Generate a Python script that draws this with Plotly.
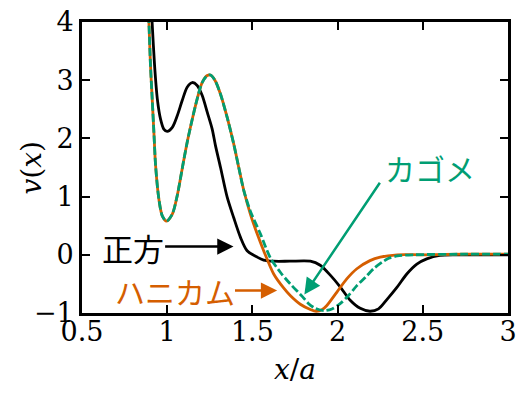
import plotly.graph_objects as go

# 正方 (square)
x_sq = [0.904, 0.912, 0.926, 0.942, 0.961, 0.98, 1.0, 1.03, 1.059, 1.088, 1.117, 1.147, 1.176,
        1.205, 1.235, 1.264, 1.283, 1.313, 1.352, 1.39, 1.43, 1.469, 1.528, 1.566, 1.625, 1.72,
        1.84, 1.898, 1.957, 2.015, 2.074, 2.133, 2.19, 2.24, 2.289, 2.348, 2.406, 2.465, 2.523,
        2.6, 2.7, 2.85, 3.0]
y_sq = [4.4, 3.97, 3.25, 2.68, 2.33, 2.16, 2.12, 2.19, 2.39, 2.65, 2.88, 2.96, 2.91,
        2.74, 2.45, 2.16, 1.88, 1.50, 0.99, 0.64, 0.30, 0.07, -0.04, -0.09, -0.11, -0.11,
        -0.11, -0.18, -0.35, -0.55, -0.78, -0.92, -0.97, -0.93, -0.77, -0.56, -0.33, -0.16, -0.07,
        -0.01, 0.0, 0.0, 0.0]

# ハニカム (honeycomb)
x_hc = [0.885, 0.893, 0.902, 0.912, 0.922, 0.932, 0.951, 0.971, 0.996, 1.03, 1.059, 1.088,
        1.117, 1.147, 1.176, 1.205, 1.235, 1.254, 1.28, 1.313, 1.352, 1.39, 1.42, 1.45, 1.488,
        1.528, 1.566, 1.625, 1.683, 1.722, 1.781, 1.84, 1.875, 1.91, 1.937, 1.996, 2.055, 2.113,
        2.19, 2.25, 2.35, 2.5, 2.75, 3.0]
y_hc = [4.5, 3.97, 3.25, 2.68, 2.10, 1.53, 0.96, 0.67, 0.58, 0.70, 1.02, 1.48,
        1.93, 2.33, 2.68, 2.96, 3.08, 3.09, 3.0, 2.76, 2.36, 1.91, 1.50, 1.10, 0.70,
        0.36, 0.07, -0.33, -0.57, -0.70, -0.85, -0.94, -0.97, -0.94, -0.87, -0.64, -0.41, -0.24,
        -0.10, -0.04, 0.0, 0.0, 0.01, 0.01]

# カゴメ (kagome)
x_kg = [0.885, 0.893, 0.902, 0.912, 0.922, 0.932, 0.951, 0.971, 0.996, 1.03, 1.059, 1.088,
        1.117, 1.147, 1.176, 1.205, 1.235, 1.254, 1.28, 1.313, 1.352, 1.39, 1.42, 1.45, 1.488,
        1.547, 1.605, 1.664, 1.722, 1.791, 1.83, 1.869, 1.918, 1.967, 2.015, 2.064, 2.113, 2.162,
        2.211, 2.26, 2.30, 2.35, 2.45, 2.75, 3.0]
y_kg = [4.5, 3.97, 3.25, 2.68, 2.10, 1.53, 0.96, 0.67, 0.58, 0.70, 1.02, 1.48,
        1.93, 2.33, 2.68, 2.96, 3.08, 3.09, 3.0, 2.76, 2.36, 1.91, 1.50, 1.10, 0.75,
        0.36, -0.05, -0.30, -0.50, -0.71, -0.84, -0.92, -0.96, -0.93, -0.84, -0.70, -0.53, -0.39,
        -0.24, -0.13, -0.06, -0.02, 0.0, 0.01, 0.01]

x_ticks = [0.5, 1, 1.5, 2, 2.5, 3]
y_ticks = [-1, 0, 1, 2, 3, 4]
y_ticktext = ["\u22121", "0", "1", "2", "3", "4"]

BLACK = "#000000"
ORANGE = "#D55E00"
GREEN = "#009E73"

fig = go.Figure()
fig.add_trace(go.Scatter(x=x_sq, y=y_sq, mode="lines", line=dict(color=BLACK, width=2.8, shape="spline", smoothing=0.8)))
fig.add_trace(go.Scatter(x=x_hc, y=y_hc, mode="lines", line=dict(color=ORANGE, width=2.8, shape="spline", smoothing=0.8)))
fig.add_trace(go.Scatter(x=x_kg, y=y_kg, mode="lines", line=dict(color=GREEN, width=2.8, shape="spline", smoothing=0.8, dash="8px,3px")))

serif = "DejaVu Serif"
cjk = "Noto Sans CJK JP"


def axis_style():
    return dict(showline=True, linewidth=2.6, linecolor="black", mirror="allticks",
                ticks="inside", ticklen=8, tickwidth=2, tickcolor="black",
                showgrid=False, zeroline=False,
                tickfont=dict(family=serif, size=27, color="black"))


fig.update_xaxes(range=[0.5, 3], tickvals=x_ticks, ticktext=[str(v) for v in x_ticks],
                 ticklabelstandoff=-7, **axis_style())
fig.update_yaxes(range=[-1, 4], tickvals=y_ticks, ticktext=y_ticktext, **axis_style())

annotations = [
    # axis titles
    dict(text="<i>x</i>/<i>a</i>", xref="paper", yref="paper", x=0.5, y=0, yanchor="middle",
         yshift=-56, showarrow=False, font=dict(family=serif, size=28, color="black")),
    dict(text="<i>v</i>(<i>x</i>)", xref="paper", yref="paper", x=0, y=0.5, xanchor="center",
         xshift=-51, textangle=-90, showarrow=False, font=dict(family=serif, size=28, color="black")),
    # labels
    dict(text="正方", x=0.797, y=0.124, xref="x", yref="y", showarrow=False,
         font=dict(family=cjk, size=31, color=BLACK)),
    dict(text="ハニカム", x=1.045, y=-0.627, xref="x", yref="y", showarrow=False,
         font=dict(family=cjk, size=30, color=ORANGE)),
    dict(text="カゴメ", x=2.543, y=1.49, xref="x", yref="y", showarrow=False,
         font=dict(family=cjk, size=30, color=GREEN)),
    # arrows
    dict(text="", x=1.389, y=0.141, ax=0.979, ay=0.141, xref="x", yref="y", axref="x", ayref="y",
         showarrow=True, arrowhead=2, arrowsize=1.3, arrowwidth=2.5, arrowcolor=BLACK),
    dict(text="", x=1.645, y=-0.615, ax=1.389, ay=-0.615, xref="x", yref="y", axref="x", ayref="y",
         showarrow=True, arrowhead=2, arrowsize=1.3, arrowwidth=2.5, arrowcolor=ORANGE),
    dict(text="", x=1.805, y=-0.684, ax=2.254, ay=1.263, xref="x", yref="y", axref="x", ayref="y",
         showarrow=True, arrowhead=2, arrowsize=1.3, arrowwidth=2.5, arrowcolor=GREEN),
]

fig.update_layout(width=528, height=395, margin=dict(l=82, r=20, t=22, b=82, autoexpand=False),
                  paper_bgcolor="white", plot_bgcolor="white", showlegend=False,
                  font=dict(family=serif, color="black"),
                  annotations=annotations)

fig.write_html("out.html", config={"displayModeBar": False},
               post_script="document.body.style.margin='0';document.body.style.padding='0';")
